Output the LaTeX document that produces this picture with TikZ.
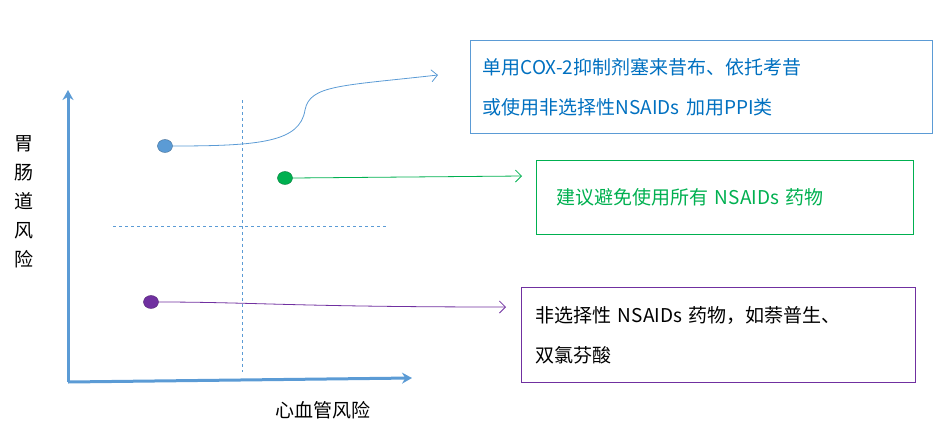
\documentclass[tikz,border=0pt]{standalone}
\usepackage{fontspec}
\setmainfont{Noto Sans CJK SC}
\usetikzlibrary{arrows.meta,shapes.geometric}
\definecolor{ax}{RGB}{91,155,213}
\definecolor{gr}{RGB}{0,176,80}
\definecolor{pu}{RGB}{112,48,160}
\definecolor{bt}{RGB}{0,112,192}
\tikzset{
  axis/.style={draw=ax,line width=3pt,-{Stealth[length=10pt,width=11pt]}},
  guide/.style={draw=ax,dashed,line width=0.6pt},
  dot/.style={ellipse,minimum width=15pt,minimum height=13pt,inner sep=0pt,draw=#1!70!black,fill=#1},
  link/.style={draw=#1,line width=0.8pt,-{Straight Barb[length=6pt]}},
  box/.style={draw=#1,line width=1.3pt,anchor=north west,align=left,font=\fontsize{19}{40}\selectfont},
}
\begin{document}
\begin{tikzpicture}[x=1pt,y=-1pt]
\useasboundingbox (0,0) rectangle (951,437);
\coordinate (o) at (68,382);
\coordinate (yt) at (68,90);
\coordinate (xt) at (412,378);
\draw[axis] (o) -- (yt);
\draw[axis] (o) -- (xt);
\draw[guide] (242,100) -- (242,372);
\draw[guide] (113,226) -- (388,226);
\node (b) [dot=ax] at (165,146) {};
\node (g) [dot=gr] at (285,178) {};
\node (p) [dot=pu] at (151,302) {};
\node (bb) [box=ax,text=bt,text width=438pt,minimum height=93pt,inner xsep=12pt] at (470,40) {单用COX-2抑制剂塞来昔布、依托考昔\\或使用非选择性NSAIDs 加用PPI类};
\node (gb) [box=gr,text=gr,text width=357pt,minimum height=74pt,inner xsep=10pt] at (536,160) {\hspace*{10pt}建议避免使用所有 NSAIDs 药物};
\node (pb) [box=pu,text=black,text width=378pt,minimum height=95pt,inner xsep=8pt] at (521,287) {\hspace*{6pt}非选择性 NSAIDs 药物，如萘普生、\\\hspace*{6pt}双氯芬酸};
\coordinate (be) at (438,75);
\coordinate (ge) at (522,176);
\coordinate (pe) at (506,307);
\draw[link=ax] (b.east) .. controls (260,146) and (300,142) .. (305,110) .. controls (310,85) and (340,86) .. (be);
\draw[link=gr] (g.east) -- (ge);
\draw[link=pu] (p.east) .. controls (250,302) and (300,307) .. (pe);
\node (yl) [align=center,font=\fontsize{19}{29}\selectfont] at (24,202) {胃\\肠\\道\\风\\险};
\node (xl) [font=\fontsize{19}{22}\selectfont] at (323,410) {心血管风险};
\end{tikzpicture}
\end{document}
